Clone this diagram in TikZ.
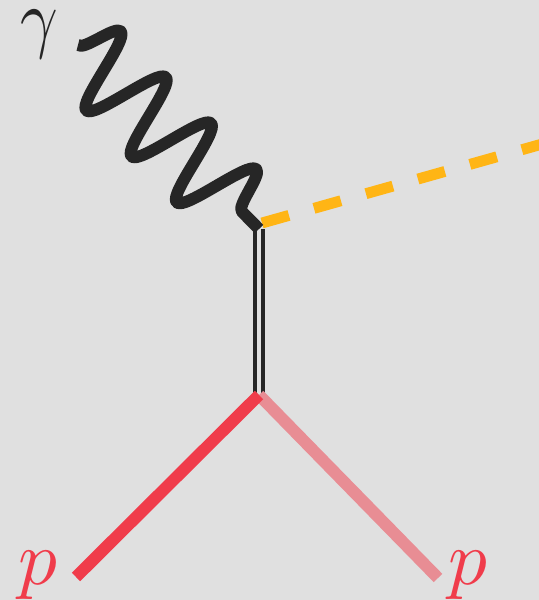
\documentclass[tikz,border=0pt]{standalone}
\usepackage{amsmath}
\usetikzlibrary{decorations.pathmorphing}
\definecolor{bggray}{HTML}{E0E0E0}
\definecolor{ink}{HTML}{262626}
\definecolor{amber}{HTML}{FFB515}
\definecolor{pred}{HTML}{F03C4B}
\definecolor{ppale}{HTML}{E88D94}

\begin{document}
\begin{tikzpicture}[
  photon/.style={draw=ink, line width=6.8pt, line join=round, decorate,
    decoration={snake, amplitude=0.8cm, segment length=1.29cm}},
  scalar/.style={draw=amber, line width=6.2pt, dash pattern=on 0.56cm off 0.52cm},
  propag/.style={draw=ink, line width=2.2pt, double=bggray, double distance=2.3pt},
  proton/.style={line width=6.8pt},
  lbl/.style={anchor=base, inner sep=0.3pt, fill=bggray, scale=4.4},
]
  % background and frame
  \fill[bggray] (0,0) rectangle (10.78,12);
  \useasboundingbox (0,0) rectangle (10.78,12);
  \clip (0,0) rectangle (10.78,12);
  % vertices and free ends
  \coordinate (gin) at (1.56,11.10);
  \coordinate (v1) at (5.18,7.42);
  \coordinate (v2) at (5.18,4.10);
  \coordinate (hs) at (5.24,7.54);
  \coordinate (hout) at (11.20,9.22);
  \coordinate (pe1) at (1.52,0.46);
  \coordinate (pe2) at (8.76,0.44);
  % outgoing scalar
  \draw[scalar] (hs) -- (hout);
  % intermediate state
  \draw[propag] (v1) -- (v2);
  % protons
  \draw[proton, ppale] (v2) -- (pe2);
  \draw[proton, pred] (v2) -- (pe1);
  % incoming photon
  \draw[photon] (gin) -- (v1);
  % labels
  \node[lbl, text=ink, xscale=0.85] (gam) at (0.78,11.12) {$\gamma$};
  \node[lbl, text=pred] (pl) at (0.75,0.30) {$p$};
  \node[lbl, text=pred] (pr) at (9.36,0.30) {$p$};
\end{tikzpicture}
\end{document}
